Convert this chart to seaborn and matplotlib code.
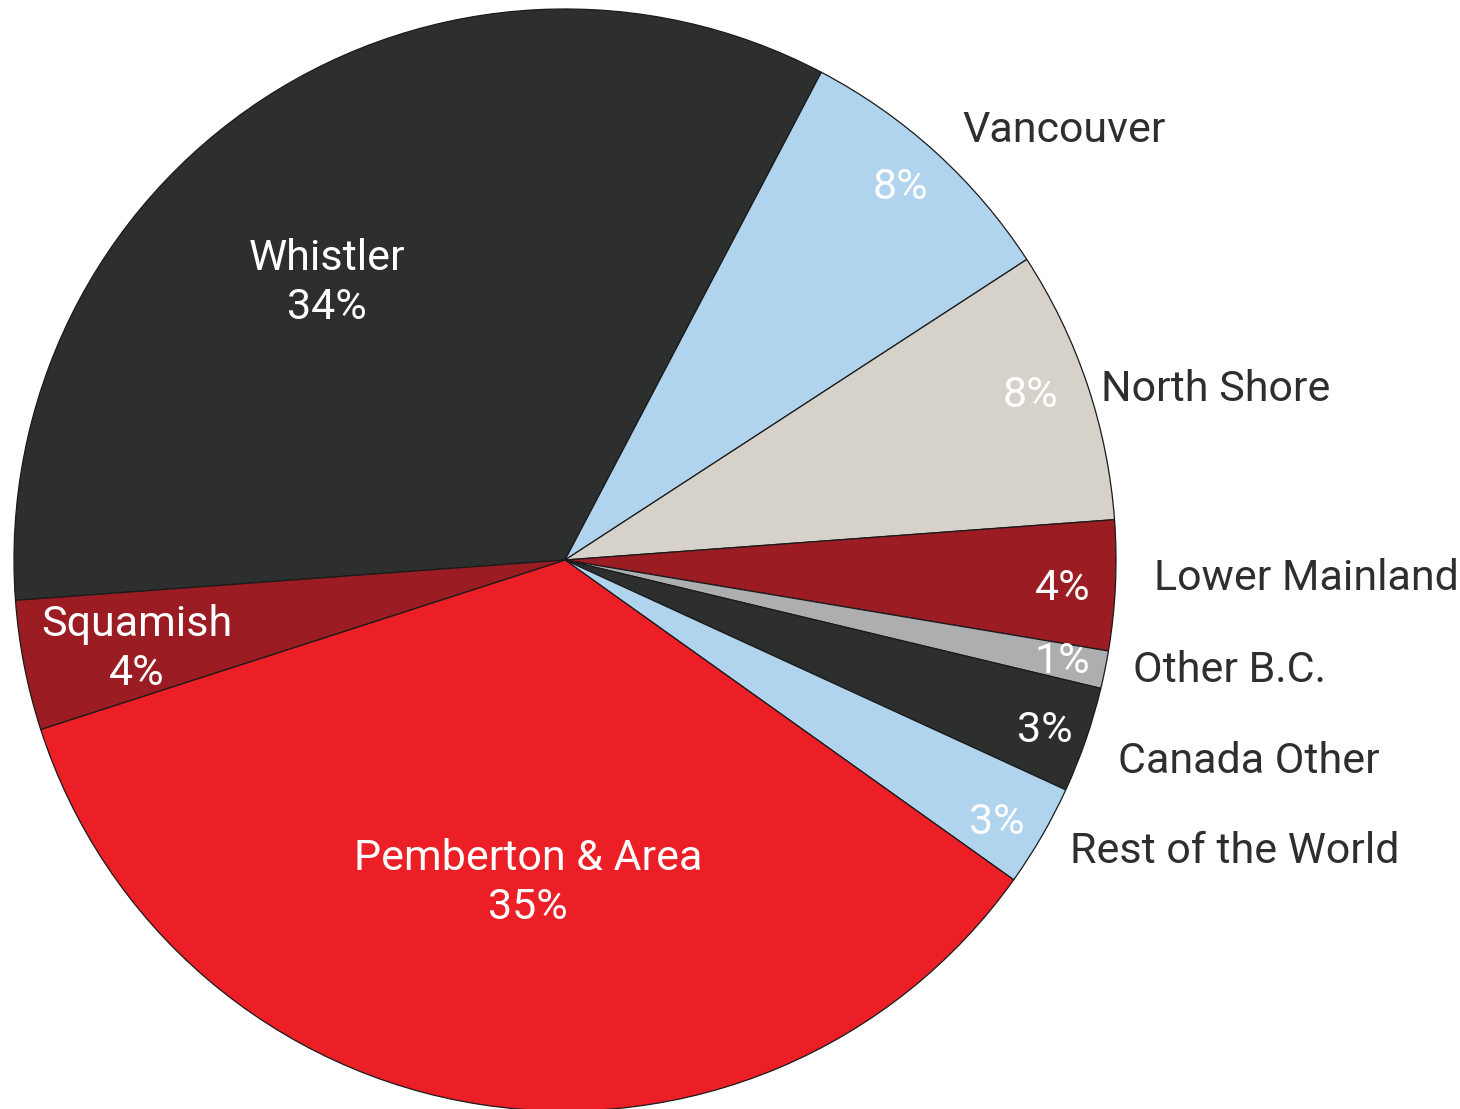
import matplotlib.pyplot as plt
import seaborn as sns

# Data
regions = ['Whistler', 'Vancouver', 'North Shore', 'Lower Mainland', 'Other B.C.',
           'Canada Other', 'Rest of the World', 'Pemberton & Area', 'Squamish']
shares = [33.8, 8.1, 8.0, 3.8, 1.1, 3.1, 3.0, 35.1, 3.8]
pct_labels = ['34%', '8%', '8%', '4%', '1%', '3%', '3%', '35%', '4%']
colors = ['#2d2f2e', '#b0d3ee', '#d6d2ca', '#9b1c22', '#adaeb0',
          '#2d2f2e', '#b0d3ee', '#ec1e26', '#9b1c22']

sns.set_theme(style='white')
plt.rcParams['font.family'] = ['Roboto', 'DejaVu Sans']

fig = plt.figure(figsize=(14.6, 11.09), dpi=100)
W, H = 1460, 1109
cx, cy, r = 565, 560, 551
ax = fig.add_axes([(cx - r) / W, (H - cy - r) / H, 2 * r / W, 2 * r / H])

ax.pie(shares, colors=colors, startangle=184.2, counterclock=False,
       wedgeprops=dict(edgecolor='#1a1a1a', linewidth=0.9))
ax.set_xlim(-1, 1)
ax.set_ylim(-1, 1)
ax.set_aspect('equal')
ax.axis('off')


def px(x, y):
    return (x - cx) / r, (cy - y) / r


dark = '#2d2f2e'
fs = 31

# labels inside the big slices
inside = [('Whistler\n34%', 327, 283), ('Pemberton & Area\n35%', 528, 883),
          ('Squamish\n4%', 137, 649)]
for t, x, y in inside:
    ax.text(*px(x, y), t, color='white', fontsize=fs, ha='center', va='center',
            linespacing=1.22)

# percentages in the small slices
small_pct = [(1, 900, 188), (2, 1030, 396), (3, 1063, 589), (4, 1062, 662),
             (5, 1045, 731), (6, 997, 823)]
for i, x, y in small_pct:
    ax.text(*px(x, y), pct_labels[i], color='white', fontsize=fs,
            ha='center', va='center')

# names outside
outside = [(1, 962, 131), (2, 1101, 390), (3, 1154, 579), (4, 1133, 671),
           (5, 1118, 762), (6, 1070, 852)]
for i, x, y in outside:
    ax.text(*px(x, y), regions[i], color=dark, fontsize=fs,
            ha='left', va='center', clip_on=False)

fig.savefig('out.png', dpi=100)
